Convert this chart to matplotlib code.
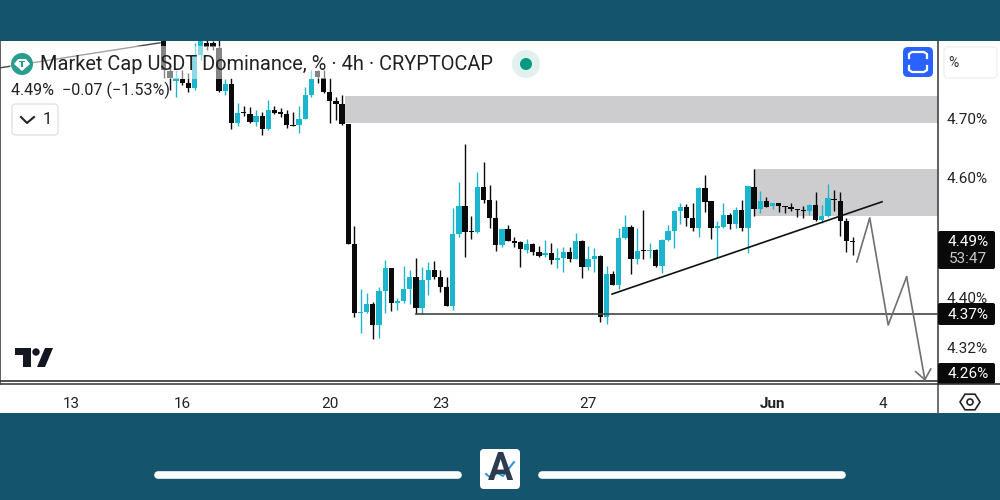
import numpy as np
import matplotlib
matplotlib.use('Agg')
import matplotlib.pyplot as plt
from matplotlib.patches import Rectangle, FancyBboxPatch, Circle, Polygon

plt.rcParams['font.family'] = ['Roboto', 'DejaVu Sans']

# 4h candles, first one is number 15 counted from May 13
first_candle = 15
opens = [4.839, 4.780, 4.763, 4.766, 4.760, 4.751, 4.807, 4.827, 4.827, 4.818, 4.746, 4.758, 4.692, 4.711, 4.707,
         4.694, 4.704, 4.682, 4.714, 4.711, 4.707, 4.689, 4.689, 4.699, 4.739, 4.780, 4.768, 4.744, 4.729, 4.724,
         4.691, 4.489, 4.373, 4.375, 4.388, 4.353, 4.410, 4.449, 4.390, 4.393, 4.413, 4.434, 4.382, 4.429, 4.445,
         4.434, 4.417, 4.385, 4.506, 4.553, 4.511, 4.509, 4.585, 4.563, 4.533, 4.487, 4.514, 4.492, 4.492, 4.479,
         4.489, 4.476, 4.471, 4.474, 4.462, 4.466, 4.476, 4.464, 4.494, 4.450, 4.464, 4.469, 4.366, 4.439, 4.420,
         4.499, 4.518, 4.464, 4.479, 4.477, 4.479, 4.452, 4.496, 4.511, 4.544, 4.551, 4.533, 4.516, 4.583, 4.561,
         4.516, 4.518, 4.538, 4.523, 4.546, 4.516, 4.585, 4.548, 4.561, 4.553, 4.558, 4.553, 4.551, 4.548, 4.546,
         4.544, 4.555, 4.529, 4.536, 4.565, 4.561, 4.528, 4.494]
closes = [4.781, 4.768, 4.768, 4.760, 4.751, 4.807, 4.835, 4.820, 4.820, 4.746, 4.758, 4.692, 4.709, 4.709, 4.694,
          4.704, 4.682, 4.714, 4.709, 4.707, 4.689, 4.687, 4.699, 4.739, 4.766, 4.770, 4.744, 4.729, 4.724, 4.691,
          4.489, 4.373, 4.375, 4.388, 4.353, 4.410, 4.449, 4.390, 4.393, 4.413, 4.434, 4.382, 4.429, 4.445, 4.434,
          4.417, 4.385, 4.506, 4.553, 4.509, 4.509, 4.585, 4.563, 4.533, 4.487, 4.514, 4.494, 4.491, 4.481, 4.489,
          4.476, 4.469, 4.472, 4.462, 4.466, 4.476, 4.464, 4.494, 4.450, 4.464, 4.469, 4.366, 4.439, 4.420, 4.499,
          4.518, 4.464, 4.477, 4.477, 4.479, 4.452, 4.496, 4.511, 4.544, 4.551, 4.533, 4.516, 4.583, 4.560, 4.516,
          4.518, 4.538, 4.523, 4.546, 4.516, 4.587, 4.548, 4.561, 4.551, 4.558, 4.553, 4.551, 4.548, 4.546, 4.544,
          4.555, 4.529, 4.536, 4.566, 4.563, 4.528, 4.494, 4.492]
highs = [4.845, 4.790, 4.781, 4.781, 4.776, 4.827, 4.842, 4.832, 4.830, 4.832, 4.766, 4.768, 4.726, 4.721, 4.719,
         4.714, 4.711, 4.731, 4.721, 4.718, 4.714, 4.711, 4.721, 4.753, 4.781, 4.781, 4.781, 4.768, 4.736, 4.739,
         4.691, 4.519, 4.413, 4.407, 4.392, 4.417, 4.462, 4.449, 4.398, 4.452, 4.445, 4.466, 4.450, 4.459, 4.461,
         4.445, 4.434, 4.550, 4.593, 4.657, 4.536, 4.610, 4.627, 4.588, 4.563, 4.514, 4.521, 4.501, 4.494, 4.497,
         4.491, 4.486, 4.496, 4.491, 4.482, 4.484, 4.484, 4.508, 4.496, 4.486, 4.482, 4.471, 4.452, 4.444, 4.516,
         4.538, 4.521, 4.516, 4.546, 4.491, 4.481, 4.497, 4.521, 4.546, 4.558, 4.556, 4.558, 4.585, 4.605, 4.561,
         4.528, 4.558, 4.541, 4.551, 4.563, 4.587, 4.615, 4.578, 4.568, 4.558, 4.558, 4.553, 4.558, 4.548, 4.553,
         4.556, 4.576, 4.555, 4.590, 4.580, 4.576, 4.533, 4.501]
lows = [4.768, 4.748, 4.736, 4.756, 4.744, 4.748, 4.798, 4.815, 4.815, 4.744, 4.739, 4.682, 4.687, 4.704, 4.692,
        4.687, 4.672, 4.681, 4.707, 4.702, 4.684, 4.687, 4.676, 4.699, 4.736, 4.760, 4.743, 4.692, 4.697, 4.689,
        4.489, 4.366, 4.340, 4.373, 4.329, 4.331, 4.373, 4.377, 4.378, 4.390, 4.388, 4.371, 4.371, 4.403, 4.430,
        4.408, 4.385, 4.378, 4.501, 4.467, 4.497, 4.508, 4.558, 4.516, 4.477, 4.484, 4.494, 4.484, 4.450, 4.474,
        4.471, 4.467, 4.467, 4.455, 4.449, 4.442, 4.459, 4.464, 4.432, 4.445, 4.442, 4.358, 4.355, 4.420, 4.413,
        4.497, 4.439, 4.455, 4.464, 4.466, 4.450, 4.440, 4.494, 4.482, 4.523, 4.519, 4.511, 4.501, 4.543, 4.497,
        4.466, 4.516, 4.514, 4.516, 4.511, 4.474, 4.536, 4.541, 4.551, 4.548, 4.543, 4.541, 4.544, 4.534, 4.533,
        4.538, 4.528, 4.524, 4.534, 4.544, 4.503, 4.476, 4.471]

day_ticks = [0, 18, 42, 60, 84, 114, 132]
day_labels = ['13', '16', '20', '23', '27', 'Jun', '4']
price_ticks = [4.70, 4.60, 4.40, 4.316]
price_labels = ['4.70%', '4.60%', '4.40%', '4.32%']

# drawings on the chart (candle number, price)
old_trend_x = [-11.6, 14.4]
old_trend_y = [4.785, 4.827]
trend_x = [87.9, 131.8]
trend_y = [4.405, 4.560]
forecast_x = [127.7, 129.8, 132.8, 135.8, 138.8]
forecast_y = [4.459, 4.533, 4.353, 4.434, 4.259]
support_mid = 4.371
support_low = 4.259
zone_top = (44.4, 4.738, 4.692)
zone_mid = (110.9, 4.615, 4.536)

TEAL_BG = '#15546d'
UP = '#1bb6ce'
DOWN = '#0a0a0a'
W, H = 1000, 500

fig = plt.figure(figsize=(10, 5), dpi=100, facecolor=TEAL_BG)


def ax_px(x0, y0, x1, y1):
    return fig.add_axes([x0 / W, 1 - y1 / H, (x1 - x0) / W, (y1 - y0) / H])


bg = ax_px(0, 0, W, H)
bg.set_xlim(0, W)
bg.set_ylim(H, 0)
bg.axis('off')
bg.add_patch(Rectangle((0, 41), W, 372, color='white', lw=0))

ax = ax_px(0, 41, 938, 384)
ax.set_zorder(1)
ax.patch.set_alpha(0)
ax.set_xlim(-11.63, 140.9)
ax.set_ylim(4.254, 4.830)

xlim_right = ax.get_xlim()[1]
for left, top_price, bottom_price in [zone_top, zone_mid]:
    ax.add_patch(Rectangle((left, bottom_price), xlim_right - left, top_price - bottom_price,
                           color='#cdcdd0', lw=0, zorder=1))

opens = np.array(opens)
closes = np.array(closes)
idx = first_candle + np.arange(len(opens))
colors = np.where(closes >= opens, UP, DOWN)
ax.vlines(idx, lows, highs, colors=colors, lw=1.0, zorder=2)
ax.bar(idx, np.maximum(np.abs(closes - opens), 0.0025), bottom=np.minimum(opens, closes),
       width=0.86, color=colors, lw=0, zorder=3)

ax.plot(old_trend_x, old_trend_y, color='#444444', lw=1, zorder=4)
ax.plot(trend_x, trend_y, color='#111111', lw=1.2, zorder=4)
ax.plot([56, xlim_right], [support_mid, support_mid], color='#444444', lw=1.2, zorder=4)
ax.plot([-11.63, xlim_right], [support_low, support_low], color='#333333', lw=1.2, zorder=4)
ax.plot(forecast_x[:-1], forecast_y[:-1], color='#707070', lw=1.2, zorder=4)
ax.annotate('', xy=(forecast_x[-1], forecast_y[-1]), xytext=(forecast_x[-2], forecast_y[-2]),
            arrowprops=dict(arrowstyle='->,head_length=0.5,head_width=0.4', color='#707070', lw=1.2,
                            shrinkA=0, shrinkB=0, mutation_scale=14), zorder=4)

ax.spines['top'].set_visible(False)
for s in ['left', 'right', 'bottom']:
    ax.spines[s].set_color('#444444')
    ax.spines[s].set_linewidth(1.2)
ax.set_xticks(day_ticks, day_labels, fontsize=11, color='#222222')
ax.get_xticklabels()[5].set_fontweight('bold')
ax.tick_params(axis='x', length=0, pad=9)
ax.yaxis.tick_right()
ax.set_yticks(price_ticks, price_labels, fontsize=11, color='#222222')
ax.tick_params(axis='y', length=0, pad=6.5)

# everything around the chart, in pixels
top = ax_px(0, 0, W, H)
top.set_zorder(2)
top.patch.set_alpha(0)
top.set_xlim(0, W)
top.set_ylim(H, 0)
top.axis('off')

top.add_patch(Rectangle((10, 46), 490, 33, color='white', alpha=0.5, lw=0))
top.plot([937.5, 937.5], [384, 413], color='#555555', lw=1.2)
top.plot([938, 1000], [384, 384], color='#333333', lw=1.2)

top.add_patch(Circle((22, 64), 11, color='#2b9d8f', lw=0))
top.add_patch(Polygon([(14, 64), (18, 59), (26, 59), (30, 64), (22, 71)], color='white', lw=0))
top.add_patch(Polygon([(19, 61), (25, 61), (25, 62), (23, 62), (23, 67), (21, 67), (21, 62), (19, 62)],
                      color='#2b9d8f', lw=0))
top.text(40, 64, 'Market Cap USDT Dominance, % · 4h · CRYPTOCAP', fontsize=14.4, color='#222222', va='center')
top.text(11, 90, '4.49%  −0.07 (−1.53%)', fontsize=11.6, color='#222222', va='center')
top.add_patch(FancyBboxPatch((12, 104), 46, 31, boxstyle='round,pad=0,rounding_size=4', fc='white', ec='#e2e2e2', lw=1))
top.plot([21, 27, 34], [117, 123, 117], color='#222222', lw=1.5)
top.text(47, 120, '1', fontsize=12, color='#222222', ha='center', va='center')

top.add_patch(Circle((526, 64), 14, color='#e1f1ed', lw=0))
top.add_patch(Circle((526, 64), 6, color='#089981', lw=0))

top.add_patch(FancyBboxPatch((903, 47), 30, 30, boxstyle='round,pad=0,rounding_size=5', fc='#2962ff', ec='none'))
top.plot([909, 909, 912, 924, 927, 927], [58, 54, 52, 52, 54, 58], color='white', lw=1.6)
top.plot([909, 909, 912, 924, 927, 927], [66, 70, 72, 72, 70, 66], color='white', lw=1.6)
top.add_patch(FancyBboxPatch((944, 47), 53, 31, boxstyle='round,pad=0,rounding_size=4', fc='white', ec='#f1eeee', lw=1))
top.text(953, 63, '%', fontsize=10, color='#333333', ha='center', va='center')

top.add_patch(FancyBboxPatch((938, 231), 57, 38, boxstyle='round,pad=0,rounding_size=2', fc='#0a0a0a', ec='none'))
top.text(968, 242, '4.49%', fontsize=11, color='white', ha='center', va='center')
top.text(968, 259, '53:47', fontsize=11, color='#c8c8c8', ha='center', va='center')
top.add_patch(FancyBboxPatch((938, 303), 57, 22, boxstyle='round,pad=0,rounding_size=2', fc='#0a0a0a', ec='none'))
top.text(968, 315, '4.37%', fontsize=11, color='white', ha='center', va='center')
top.add_patch(FancyBboxPatch((938, 363), 57, 21, boxstyle='round,pad=0,rounding_size=2', fc='#0a0a0a', ec='none'))
top.text(968, 374, '4.26%', fontsize=11, color='white', ha='center', va='center')

# TradingView mark
top.add_patch(Polygon([(15, 348), (31, 348), (31, 367), (23, 367), (23, 355), (15, 355)], color='#131722', lw=0))
top.add_patch(Circle((36, 352), 3.7, color='#131722', lw=0))
top.add_patch(Polygon([(45, 348), (53, 348), (45, 367), (37, 367)], color='#131722', lw=0))

angles = np.deg2rad(np.arange(0, 360, 60))
top.add_patch(Polygon(np.c_[970 + 10 * np.cos(angles), 402 + 9 * np.sin(angles)], fc='white', ec='#222222', lw=1.2))
top.add_patch(Circle((970, 402), 3, fc='white', ec='#222222', lw=1.2))

# footer
top.plot([158, 458], [475, 475], color='white', lw=5.5, solid_capstyle='round')
top.plot([542, 842], [475, 475], color='white', lw=5.5, solid_capstyle='round')
top.add_patch(FancyBboxPatch((480, 449), 40, 40, boxstyle='round,pad=0,rounding_size=4', fc='white', ec='none'))
top.text(500, 470, 'A', fontsize=27, fontweight='bold', color='#2d3b4f', ha='center', va='center')
top.plot([486, 491, 497, 503, 514], [474, 478, 473, 476, 462], color='#2b8fe0', lw=1.4)

fig.savefig('out.png', dpi=100, facecolor=fig.get_facecolor())
